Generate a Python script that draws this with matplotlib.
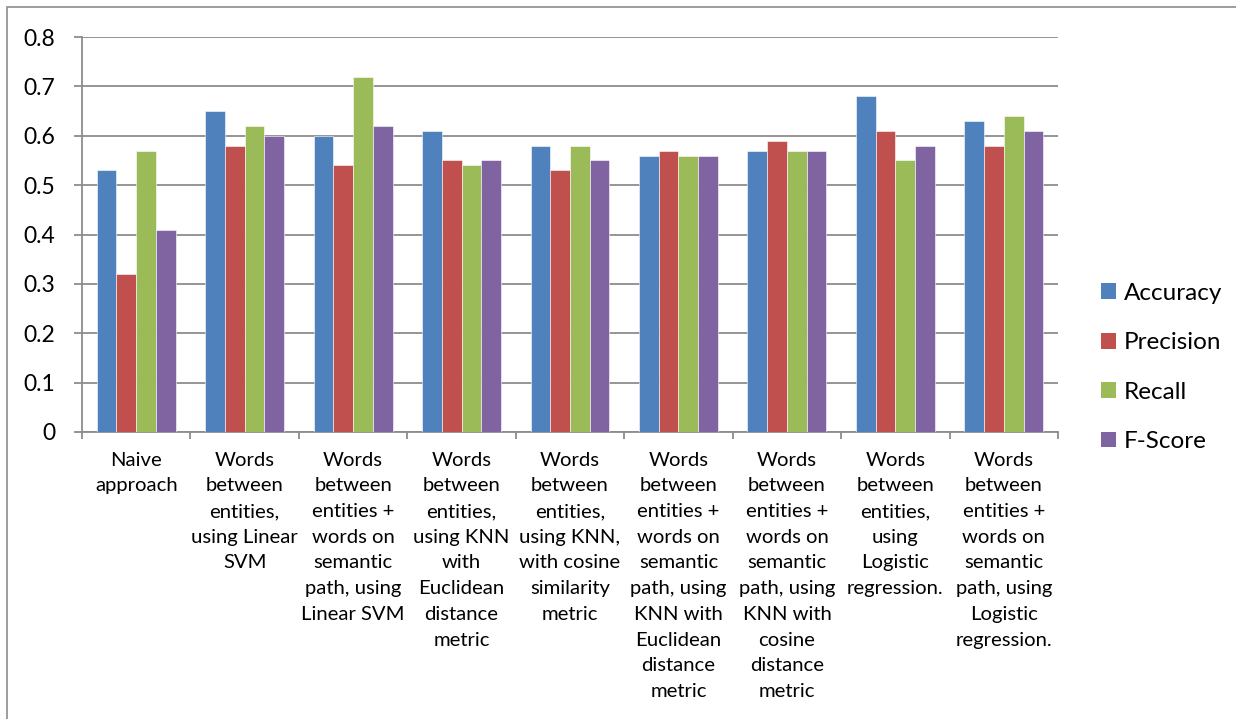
import matplotlib
matplotlib.use("Agg")
import matplotlib.pyplot as plt
import numpy as np
from matplotlib.patches import Rectangle, Patch

plt.rcParams['font.family'] = ['Lato', 'DejaVu Sans']

categories = [
    "Naive\napproach",
    "Words\nbetween\nentities,\nusing Linear\nSVM",
    "Words\nbetween\nentities +\nwords on\nsemantic\npath, using\nLinear SVM",
    "Words\nbetween\nentities,\nusing KNN\nwith\nEuclidean\ndistance\nmetric",
    "Words\nbetween\nentities,\nusing KNN,\nwith cosine\nsimilarity\nmetric",
    "Words\nbetween\nentities +\nwords on\nsemantic\npath, using\nKNN with\nEuclidean\ndistance\nmetric",
    "Words\nbetween\nentities +\nwords on\nsemantic\npath, using\nKNN with\ncosine\ndistance\nmetric",
    "Words\nbetween\nentities,\nusing\nLogistic\nregression.",
    "Words\nbetween\nentities +\nwords on\nsemantic\npath, using\nLogistic\nregression.",
]
series_names = ["Accuracy", "Precision", "Recall", "F-Score"]
accuracy = [0.53, 0.65, 0.60, 0.61, 0.58, 0.56, 0.57, 0.68, 0.63]
precision = [0.32, 0.58, 0.54, 0.55, 0.53, 0.57, 0.59, 0.61, 0.58]
recall = [0.57, 0.62, 0.72, 0.54, 0.58, 0.56, 0.57, 0.55, 0.64]
fscore = [0.41, 0.60, 0.62, 0.55, 0.55, 0.56, 0.57, 0.58, 0.61]
y_ticks = [0, 0.1, 0.2, 0.3, 0.4, 0.5, 0.6, 0.7, 0.8]
y_tick_labels = ["0", "0.1", "0.2", "0.3", "0.4", "0.5", "0.6", "0.7", "0.8"]

colors = ["#4F81BD", "#C0504D", "#9BBB59", "#8064A2"]
all_series = [accuracy, precision, recall, fscore]

W, H = 1236, 719
fig = plt.figure(figsize=(W / 100, H / 100), dpi=100)
ax = fig.add_axes([82 / W, 1 - 432 / H, (1058 - 82) / W, (432 - 37) / H])

n = len(categories)
x = np.arange(n)
bw = 0.182
for i, (vals, c, name) in enumerate(zip(all_series, colors, series_names)):
    ax.bar(x + (i - 1.5) * bw, vals, bw, color=c, label=name,
           edgecolor='white', linewidth=0.4, zorder=3)

ax.set_xlim(-0.5, n - 0.5)
ax.set_ylim(0, 0.8)
ax.set_yticks(y_ticks)
ax.set_yticklabels(y_tick_labels, fontsize=16.5)
ax.yaxis.grid(True, color='#8C8C8C', linewidth=1.3, zorder=0)
ax.set_axisbelow(True)
ax.tick_params(axis='y', length=6, width=1.3, color='#8C8C8C', pad=13, labelcolor='black')

ax.set_xticks(np.arange(n + 1) - 0.5)
ax.set_xticklabels([])
ax.tick_params(axis='x', length=5, width=1.3, color='#8C8C8C', direction='out')
for xi, lab in zip(x, categories):
    ax.text(xi, -0.05, lab, ha='center', va='top', fontsize=14.6,
            linespacing=1.62, transform=ax.get_xaxis_transform())

for s in ['top', 'right']:
    ax.spines[s].set_visible(False)
for s in ['left', 'bottom']:
    ax.spines[s].set_color('#8C8C8C')
    ax.spines[s].set_linewidth(1.3)

handles = [Patch(facecolor=c, edgecolor='none') for c in colors]
fig.legend(handles, series_names, loc='center left',
           bbox_to_anchor=(1089 / W, 1 - 367.5 / H), frameon=False,
           fontsize=17.5, handlelength=0.62, handleheight=0.62,
           handletextpad=0.3, labelspacing=1.17, borderpad=0)

fig.patches.append(Rectangle((7 / W, -0.05), 1.1, 1 - 7 / H + 0.05,
                             transform=fig.transFigure, fill=False,
                             edgecolor='#8C8C8C', linewidth=1.2))

fig.savefig("out.png", dpi=100)
